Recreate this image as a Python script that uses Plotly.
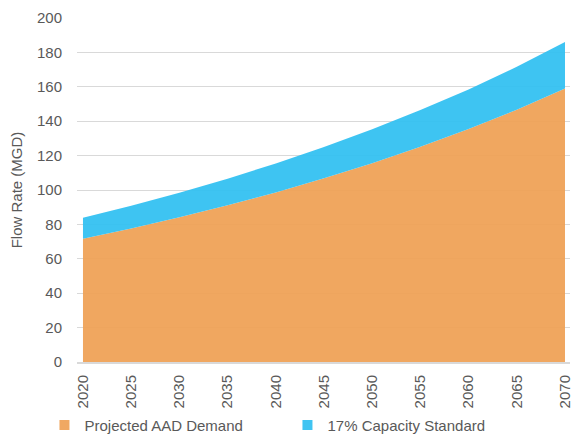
import plotly.graph_objects as go

years = [2020, 2025, 2030, 2035, 2040, 2045, 2050, 2055, 2060, 2065, 2070]
demand = [71.7, 77.6, 84.1, 91.1, 98.6, 106.8, 115.6, 125.2, 135.5, 146.7, 159.0]
capacity = [12.2, 13.2, 14.3, 15.5, 16.8, 18.2, 19.7, 21.3, 23.0, 24.9, 27.0]
names = ["Projected AAD Demand", "17% Capacity Standard"]
y_ticks = list(range(0, 201, 20))

orange = "rgba(239,160,84,0.93)"
blue = "rgba(47,191,241,0.93)"
orange_solid = "#F0A862"
blue_solid = "#40C4F2"

FONT = "Liberation Sans, Arial, sans-serif"
FS = 15
GREY = "#595959"

fig = go.Figure()
fig.add_trace(go.Scatter(x=years, y=demand, stackgroup="one", mode="none",
                         fillcolor=orange, name=names[0], showlegend=False,
                         line=dict(width=0)))
fig.add_trace(go.Scatter(x=years, y=capacity, stackgroup="one", mode="none",
                         fillcolor=blue, name=names[1], showlegend=False,
                         line=dict(width=0)))
# legend entries
for nm, col in zip(names, [orange_solid, blue_solid]):
    fig.add_trace(go.Scatter(x=[None], y=[None], mode="markers", name=nm,
                             marker=dict(symbol="square", size=10, color=col)))

fig.update_layout(
    width=574, height=438,
    margin=dict(l=77, r=4, t=18, b=76, autoexpand=False),
    paper_bgcolor="white", plot_bgcolor="white",
    font=dict(family=FONT, size=FS, color=GREY),
    showlegend=True,
    legend=dict(orientation="h", x=-0.066, y=-0.136, xanchor="left", yanchor="top",
                font=dict(size=FS, color=GREY), traceorder="normal",
                entrywidth=198, entrywidthmode="pixels",
                itemwidth=30, tracegroupgap=0),
    xaxis=dict(range=[2019.38, 2070.52], tickmode="array", tickvals=years,
               ticktext=[str(y) for y in years], tickangle=-90, automargin=False,
               showgrid=False, zeroline=False, showline=True,
               linecolor="#d9d9d9", linewidth=2, ticks="", ticklen=0,
               ticklabelstandoff=5,
               tickfont=dict(size=FS, color=GREY)),
    yaxis=dict(range=[0, 200], tickvals=y_ticks, showgrid=True, automargin=False,
               gridcolor="#d9d9d9", gridwidth=1, zeroline=False,
               showline=False, ticks="", ticklabelstandoff=14,
               title=dict(text="Flow Rate (MGD)", font=dict(size=FS, color=GREY),
                          standoff=10),
               tickfont=dict(size=FS, color=GREY)),
)

fig.write_html("out.html", config={"displayModeBar": False},
               post_script="document.body.style.margin='0';"
                           "document.body.style.overflow='hidden';")
